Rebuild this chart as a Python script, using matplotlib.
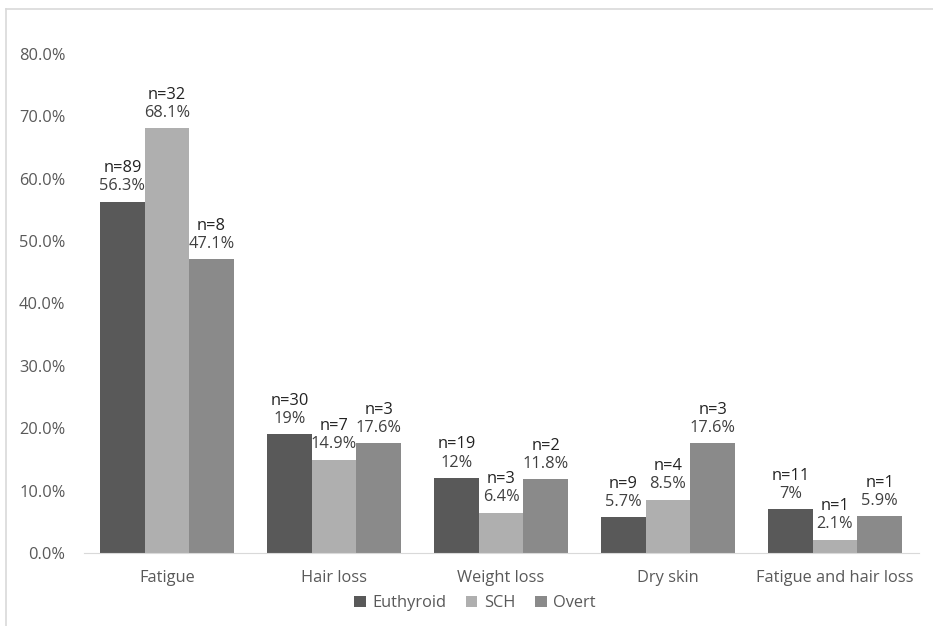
import numpy as np
import matplotlib.pyplot as plt
from matplotlib.lines import Line2D

categories = ['Fatigue', 'Hair loss', 'Weight loss', 'Dry skin', 'Fatigue and hair loss']
groups = ['Euthyroid', 'SCH', 'Overt']
euthyroid_pct = [56.3, 19, 12, 5.7, 7]
sch_pct = [68.1, 14.9, 6.4, 8.5, 2.1]
overt_pct = [47.1, 17.6, 11.8, 17.6, 5.9]
euthyroid_n = [89, 30, 19, 9, 11]
sch_n = [32, 7, 3, 4, 1]
overt_n = [8, 3, 2, 3, 1]

colors = ['#595959', '#afafaf', '#8a8a8a']

plt.rcParams['font.family'] = ['Open Sans', 'DejaVu Sans']
fs = 11.8

fig = plt.figure(figsize=(9.33, 6.26), dpi=100)
ax = fig.add_axes([83.5 / 933, 1 - 553 / 626, 835 / 933, 499 / 626])

x = np.arange(len(categories))
w = 0.267
series = [(euthyroid_pct, euthyroid_n), (sch_pct, sch_n), (overt_pct, overt_n)]
for i, ((pct, ns), name) in enumerate(zip(series, groups)):
    pos = x + (i - 1) * w
    ax.bar(pos, pct, width=w, color=colors[i], label=name)
    for px, v, n in zip(pos, pct, ns):
        ax.annotate(f'n={n}', (px, v), xytext=(0, 18.5), textcoords='offset points',
                    ha='center', va='bottom', fontsize=fs, color='#222222')
        ax.annotate(f'{v:g}%', (px, v), xytext=(0, 5.5), textcoords='offset points',
                    ha='center', va='bottom', fontsize=fs, color='#404040')

ax.set_xlim(-0.5, len(categories) - 0.5)
ax.set_ylim(0, 80)
ax.set_yticks(np.arange(0, 81, 10))
ax.set_yticklabels([f'{t:.1f}%' for t in np.arange(0, 81, 10)])
ax.set_xticks(x)
ax.set_xticklabels(categories)
ax.tick_params(axis='both', length=0, labelsize=fs, colors='#595959')
ax.tick_params(axis='y', pad=13)
ax.tick_params(axis='x', pad=12)
for s in ['top', 'right', 'left']:
    ax.spines[s].set_visible(False)
ax.spines['bottom'].set_color('#d9d9d9')

ax.legend(loc='upper center', bbox_to_anchor=(475 / 933, 1 - 587 / 626),
          bbox_transform=fig.transFigure, ncol=3, frameon=False, fontsize=fs,
          handlelength=0.7, handleheight=0.7, handletextpad=0.4, columnspacing=1.2,
          labelcolor='#595959', borderpad=0)

# outer chart frame
fig.add_artist(Line2D([6 / 933, 6 / 933], [0, 1 - 9 / 626], color='#d9d9d9', lw=1.2,
                      transform=fig.transFigure))
fig.add_artist(Line2D([6 / 933, 1], [1 - 9 / 626, 1 - 9 / 626], color='#d9d9d9', lw=1.2,
                      transform=fig.transFigure))

fig.savefig('out.png', dpi=100)
